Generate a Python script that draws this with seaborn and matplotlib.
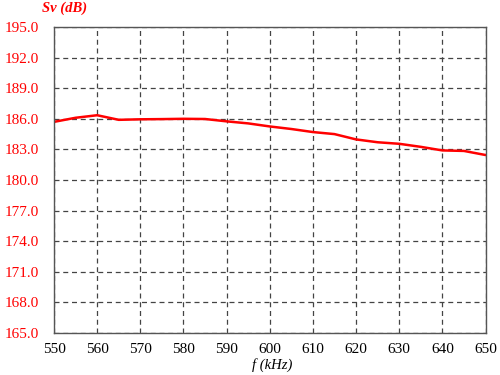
import matplotlib
matplotlib.use("Agg")
import matplotlib.pyplot as plt
import seaborn as sns
import pandas as pd

freq_khz = [550, 555, 560, 565, 570, 575, 580, 585, 590, 595, 600,
            605, 610, 615, 620, 625, 630, 635, 640, 645, 650]
sv_db = [185.7, 186.1, 186.35, 185.9, 185.95, 185.97, 186.0, 185.98, 185.75, 185.55, 185.25,
         185.0, 184.7, 184.5, 183.98, 183.7, 183.55, 183.25, 182.9, 182.85, 182.45]
x_ticks = [550, 560, 570, 580, 590, 600, 610, 620, 630, 640, 650]
y_ticks = [165.0, 168.0, 171.0, 174.0, 177.0, 180.0, 183.0, 186.0, 189.0, 192.0, 195.0]

sns.set_theme(style="white")
plt.rcParams['font.family'] = ['Liberation Serif', 'DejaVu Serif']

df = pd.DataFrame({"f": freq_khz, "sv": sv_db})

fig = plt.figure(figsize=(5, 3.75), dpi=100)
ax = fig.add_axes([0.108, 0.112, 0.863, 0.816])

sns.lineplot(data=df, x="f", y="sv", ax=ax, color="#ff0000", linewidth=1.8)

ax.set_xlim(550, 650)
ax.set_ylim(165, 195)
ax.set_xticks(x_ticks)
ax.set_yticks(y_ticks)
ax.set_xticklabels([str(v) for v in x_ticks])
ax.set_yticklabels([f"{v:.1f}" for v in y_ticks])
ax.set_xlabel("")
ax.set_ylabel("")

ax.grid(True, color="#444444", linestyle=(0, (4, 3)), linewidth=0.9)
for s in ax.spines.values():
    s.set_color("#555555")
    s.set_linewidth(1.0)

ax.tick_params(axis="x", length=0, pad=7, labelsize=11, labelcolor="black")
ax.tick_params(axis="y", length=0, pad=11, labelsize=11, labelcolor="#ff0000")

fig.text(0.13, 0.978, "Sv (dB)", color="#ff0000", fontsize=10.5, fontweight="bold",
         fontstyle="italic", ha="center", va="center")
fig.text(0.545, 0.027, "f (kHz)", color="black", fontsize=10.5,
         fontstyle="italic", ha="center", va="center")

fig.savefig("out.png", dpi=100)
